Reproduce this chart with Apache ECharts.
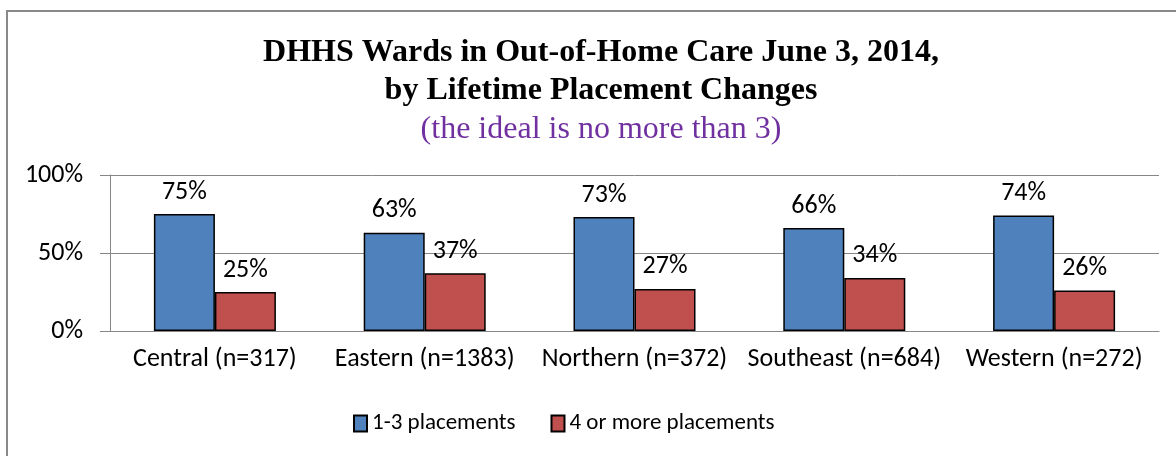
<!DOCTYPE html>
<html lang="en">
	<head>
		<meta charset="UTF-8">
		<title>DHHS Wards in Out-of-Home Care</title>
		<style>
			html, body { margin: 0; padding: 0; background: #fff; }
			#chart { width: 1176px; height: 456px; }
		</style>
	</head>
	<body>
		<div id="chart"></div>
		<script src="https://cdn.jsdelivr.net/npm/echarts@6/dist/echarts.min.js"></script>
		<script>
			// data
			var regions = ["Central (n=317)", "Eastern (n=1383)", "Northern (n=372)", "Southeast (n=684)", "Western (n=272)"];
			var fewPlacements = [75, 63, 73, 66, 74];   // 1-3 placements, %
			var manyPlacements = [25, 37, 27, 34, 26];  // 4 or more, %
			var seriesNames = ["1-3 placements", "4 or more placements"];

			var sans = "Carlito, Lato, sans-serif";
			var serif = "'Liberation Serif', 'Times New Roman', serif";
			var gray = "#868686";

			var chart = echarts.init(document.getElementById("chart"));

			var option = {
				backgroundColor: "#fff",
				animation: false,
				title: {
					text: "DHHS Wards in Out-of-Home Care June 3, 2014,\nby Lifetime Placement Changes",
					subtext: "(the ideal is no more than 3)",
					left: 596,
					top: 29,
					textAlign: "center",
					itemGap: 3,
					textStyle: {
						fontFamily: serif,
						fontWeight: "bold",
						fontSize: 32,
						lineHeight: 38,
						color: "#000"
					},
					subtextStyle: {
						fontFamily: serif,
						fontSize: 32,
						lineHeight: 34,
						color: "#7030a0"
					}
				},
				legend: {
					data: seriesNames,
					top: 407,
					left: 348,
					icon: "rect",
					itemWidth: 13,
					itemHeight: 16,
					itemGap: 35,
					textStyle: { fontFamily: sans, fontSize: 23, color: "#000" }
				},
				grid: { left: 110, right: 17, top: 175, bottom: 125 },
				xAxis: {
					type: "category",
					data: regions,
					axisLine: { lineStyle: { color: gray, width: 1 } },
					axisTick: { length: 7, lineStyle: { color: gray } },
					axisLabel: { interval: 0, margin: 15, fontFamily: sans, fontSize: 26, color: "#000" }
				},
				yAxis: {
					type: "value",
					min: 0,
					max: 100,
					interval: 50,
					axisLine: { show: true, lineStyle: { color: gray, width: 1 } },
					axisTick: { show: true, length: 10, lineStyle: { color: gray } },
					axisLabel: { margin: 27, formatter: "{value}%", fontFamily: sans, fontSize: 26, color: "#000" },
					splitLine: { lineStyle: { color: gray, width: 1 } }
				},
				series: [
					{
						name: seriesNames[0],
						type: "bar",
						data: fewPlacements,
						barWidth: 61,
						barGap: "0%",
						itemStyle: { color: "#4f81bd", borderColor: "#000", borderWidth: 1.5 },
						label: { show: true, position: "top", distance: 9, formatter: "{c}%", fontFamily: sans, fontSize: 26, color: "#000" }
					},
					{
						name: seriesNames[1],
						type: "bar",
						data: manyPlacements,
						barWidth: 61,
						barGap: "0%",
						itemStyle: { color: "#c0504d", borderColor: "#000", borderWidth: 1.5 },
						label: { show: true, position: "top", distance: 9, formatter: "{c}%", fontFamily: sans, fontSize: 26, color: "#000" }
					}
				],
				// chart frame: only top and left edges show in the picture
				graphic: [
					{
						type: "rect",
						shape: { x: 7, y: 11, width: 1300, height: 600 },
						style: { fill: null, stroke: "#898989", lineWidth: 2 },
						silent: true,
						z: -1
					}
				]
			};

			chart.setOption(option);
		</script>
	</body>
</html>
